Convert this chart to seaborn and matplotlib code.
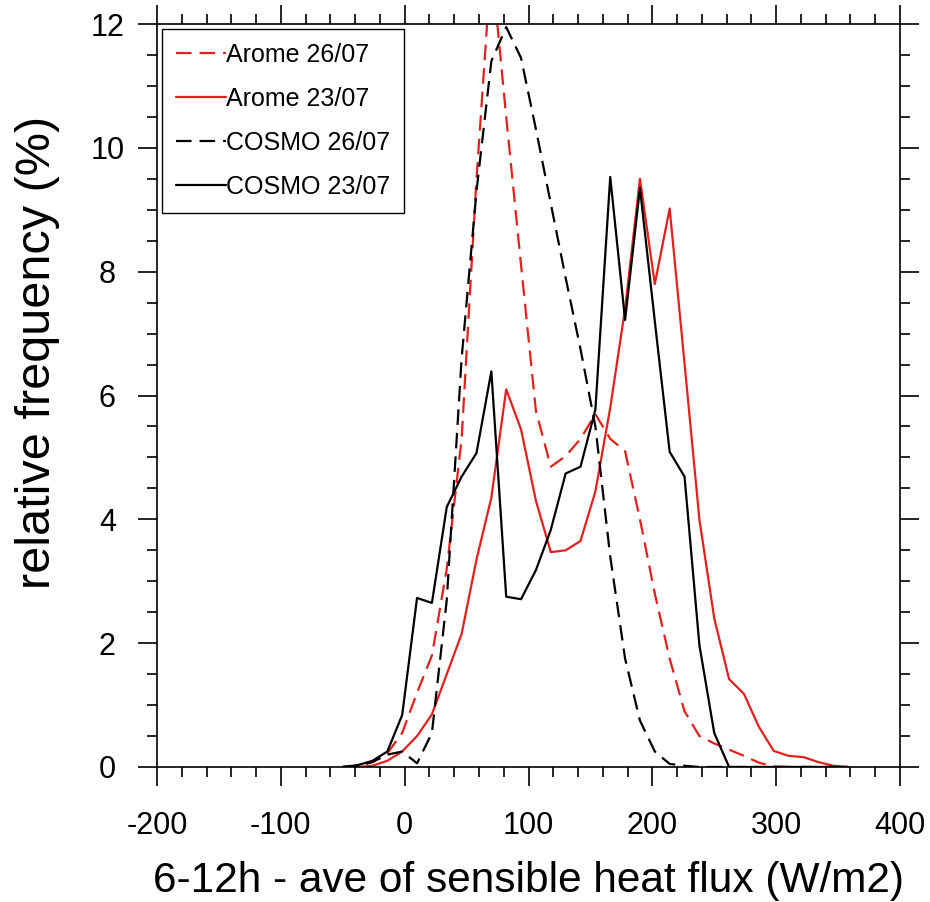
import pandas as pd
import seaborn as sns
import matplotlib.pyplot as plt
from matplotlib.ticker import MultipleLocator

# bin centres of the flux histogram (W/m2)
flux = [-50, -38, -26, -14, -2, 10, 22, 34, 46, 58, 70, 82, 94, 106, 118,
        130, 142, 154, 166, 178, 190, 202, 214, 226, 238, 250, 262, 274,
        286, 298, 310, 322, 334, 346, 358]

# relative frequency (%)
arome_26 = [0.0, 0.02, 0.08, 0.22, 0.55, 1.2, 1.8, 3.2, 5.3, 9.5, 13.0,
            10.5, 8.1, 5.75, 4.85, 5.02, 5.3, 5.7, 5.3, 5.1, 4.0, 2.8,
            1.75, 0.9, 0.5, 0.38, 0.28, 0.18, 0.07, 0.01, 0.0, 0.0, 0.0,
            0.0, 0.0]
arome_23 = [0.0, 0.0, 0.02, 0.1, 0.25, 0.5, 0.85, 1.5, 2.15, 3.35, 4.35,
            6.1, 5.45, 4.3, 3.47, 3.5, 3.65, 4.45, 5.8, 7.4, 9.5, 7.8,
            9.02, 6.52, 4.0, 2.4, 1.42, 1.18, 0.65, 0.26, 0.18, 0.16, 0.08,
            0.02, 0.0]
cosmo_26 = [0.0, 0.02, 0.08, 0.2, 0.25, 0.06, 0.55, 2.7, 6.6, 9.3, 11.4,
            11.95, 11.45, 10.3, 9.1, 7.9, 6.75, 5.5, 3.4, 1.75, 0.75, 0.25,
            0.05, 0.02, 0.0, 0.0, 0.0, 0.0, 0.0, 0.0, 0.0, 0.0, 0.0, 0.0,
            0.0]
cosmo_23 = [0.0, 0.03, 0.1, 0.25, 0.84, 2.73, 2.65, 4.2, 4.69, 5.07, 6.39,
            2.75, 2.71, 3.18, 3.83, 4.74, 4.85, 5.77, 9.53, 7.22, 9.35, 7.2,
            5.09, 4.69, 1.97, 0.55, 0.0, 0.0, 0.0, 0.0, 0.0, 0.0, 0.0, 0.0,
            0.0]

labels = ["Arome 26/07", "Arome 23/07", "COSMO 26/07", "COSMO 23/07"]

RED = "#e2211f"
dash = (0, (7, 3.6))
styles = {
    "Arome 26/07": (RED, dash),
    "Arome 23/07": (RED, "-"),
    "COSMO 26/07": ("black", dash),
    "COSMO 23/07": ("black", "-"),
}

df = pd.concat([
    pd.DataFrame({"flux": flux, "freq": vals, "run": name})
    for name, vals in zip(labels, [arome_26, arome_23, cosmo_26, cosmo_23])
])

sns.set_style("ticks")
plt.rcParams["font.family"] = ["Liberation Sans", "DejaVu Sans"]
plt.rcParams["axes.unicode_minus"] = False
plt.rcParams["text.color"] = "black"
plt.rcParams["axes.labelcolor"] = "black"
plt.rcParams["xtick.color"] = "black"
plt.rcParams["ytick.color"] = "black"
plt.rcParams["axes.edgecolor"] = "black"

fig = plt.figure(figsize=(9.3, 9.02), dpi=100)
ax = fig.add_axes([157 / 930, 1 - 767 / 902, 743 / 930, 743 / 902])

for name in labels:
    color, ls = styles[name]
    sns.lineplot(data=df[df["run"] == name], x="flux", y="freq", ax=ax,
                 color=color, linestyle=ls, linewidth=1.6, label=name,
                 estimator=None, sort=False)

ax.set_xlim(-200, 400)
ax.set_ylim(0, 12)
ax.xaxis.set_major_locator(MultipleLocator(100))
ax.xaxis.set_minor_locator(MultipleLocator(20))
ax.yaxis.set_major_locator(MultipleLocator(2))
ax.yaxis.set_minor_locator(MultipleLocator(0.5))

for s in ax.spines.values():
    s.set_linewidth(1.2)
    s.set_visible(True)
ax.tick_params(which="both", direction="out", top=True, right=True,
               width=1.2, labelsize=22)
ax.tick_params(which="major", length=13.7)
ax.tick_params(which="minor", length=7)
ax.tick_params(axis="x", which="major", pad=18)
ax.tick_params(axis="y", which="major", pad=22)
for t in ax.get_yticklabels():
    t.set_horizontalalignment("center")

ax.set_xlabel("6-12h - ave of sensible heat flux (W/m2)", fontsize=30.5,
              va="baseline")
ax.xaxis.set_label_coords(0.5, -0.168)
ax.set_ylabel("relative frequency (%)", fontsize=35)
ax.yaxis.set_label_coords(-0.1306, 0.5585)

leg = ax.legend(loc="upper left", fontsize=18, frameon=True, fancybox=False,
                edgecolor="black", framealpha=1, borderaxespad=0.2,
                borderpad=0.55, labelspacing=0.8, handlelength=2.0,
                handletextpad=0.0)
leg.get_frame().set_linewidth(1.0)

fig.savefig("out.png", dpi=100)
